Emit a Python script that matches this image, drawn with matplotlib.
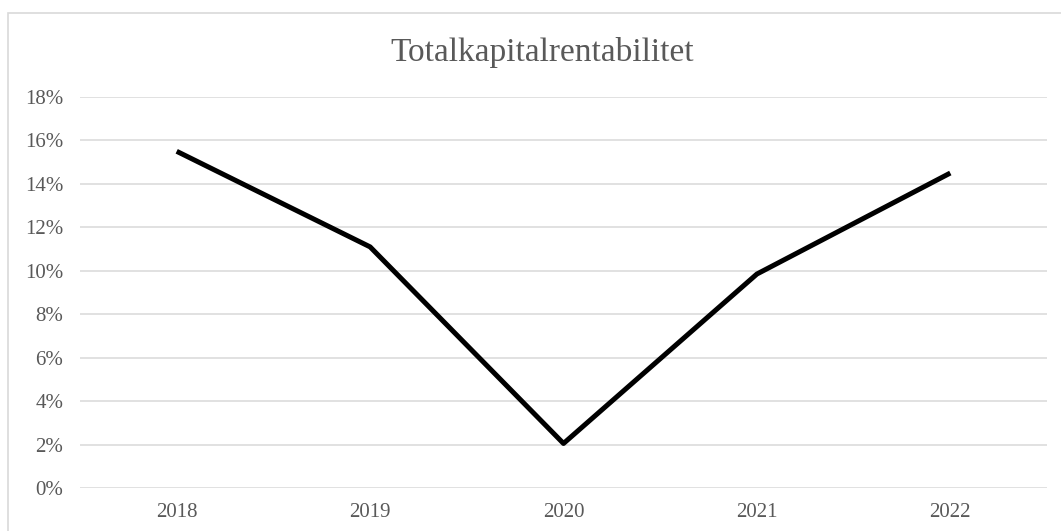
import matplotlib
matplotlib.use('Agg')
from matplotlib import pyplot as plt
from matplotlib.patches import Rectangle
from matplotlib.ticker import PercentFormatter

years = ['2018', '2019', '2020', '2021', '2022']
rentabilitet = [15.5, 11.1, 2.05, 9.85, 14.5]
y_ticks = [0, 2, 4, 6, 8, 10, 12, 14, 16, 18]

plt.rcParams['font.family'] = 'Liberation Serif'

fig = plt.figure(figsize=(10.61, 5.31), dpi=100)
ax = fig.add_axes([80 / 1061, 1 - 488 / 531, 967 / 1061, 391 / 531])

# outer chart frame (cut off at right and bottom in the reference)
fig.patches.append(Rectangle((8 / 1061, -0.1), 1.2, 1 - 13 / 531 + 0.1,
                             transform=fig.transFigure, fill=False,
                             edgecolor='#d9d9d9', linewidth=1.2))

x = range(len(years))
ax.plot(x, rentabilitet, color='black', linewidth=3.6, solid_capstyle='butt')

ax.set_xlim(-0.5, len(years) - 0.5)
ax.set_ylim(0, 18)
ax.set_yticks(y_ticks)
ax.yaxis.set_major_formatter(PercentFormatter(decimals=0))
ax.set_xticks(list(x))
ax.set_xticklabels(years)

ax.grid(axis='y', color='#d9d9d9', linewidth=1.1)
ax.set_axisbelow(True)
for s in ax.spines.values():
    s.set_visible(False)
ax.tick_params(length=0, labelsize=15, labelcolor='#595959')
ax.tick_params(axis='y', pad=12)
ax.tick_params(axis='x', pad=11)

fig.text(0.5 + 12 / 1061, 1 - 52 / 531, 'Totalkapitalrentabilitet', ha='center', va='center',
         fontsize=24, color='#595959')

fig.savefig('out.png', dpi=100)
